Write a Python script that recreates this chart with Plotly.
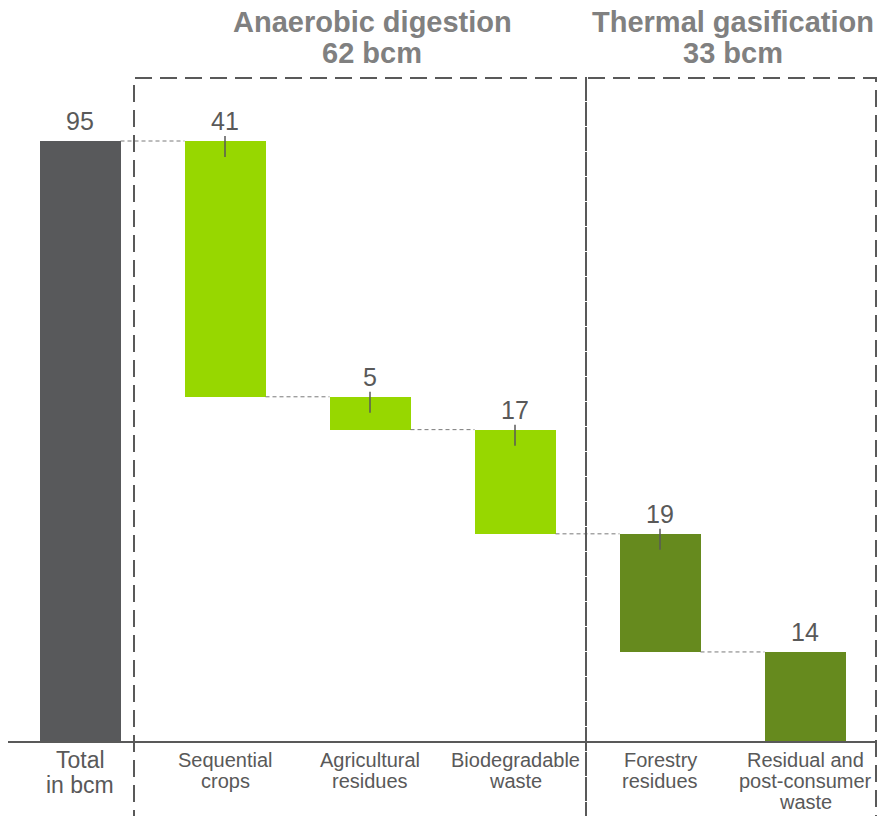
import plotly.graph_objects as go

# ---------------- data ----------------
categories = ["Total", "Sequential crops", "Agricultural residues",
              "Biodegradable waste", "Forestry residues",
              "Residual and post-consumer waste"]
category_lines = [["Total", "in bcm"], ["Sequential", "crops"],
                  ["Agricultural", "residues"], ["Biodegradable", "waste"],
                  ["Forestry", "residues"], ["Residual and", "post-consumer", "waste"]]
total_value = 95
contributions = [40.5, 5.2, 16.5, 18.7, 14.1]
value_labels = ["95", "41", "5", "17", "19", "14"]
show_tick = [False, True, True, True, True, False]
group_titles = ["Anaerobic digestion", "Thermal gasification"]
group_totals = ["62 bcm", "33 bcm"]
bar_colors = ["#58595B", "#97D700", "#97D700", "#97D700", "#668A1E", "#668A1E"]

# ---------------- layout constants ----------------
W, H = 877, 816
ML, MT, MB, MR = 8, 0, 75, 0
PW, PH = W - ML - MR, H - MT - MB
SLOT = 145.0
X_LEFT = -(80 - ML) / SLOT
Y_TOP = total_value * PH / 600.0
TEXT = "#595959"
FONT = "Liberation Sans, Arial, sans-serif"


def pxx(p):
    return (p - ML) / PW


def pxy(p):
    return 1 - (p - MT) / PH


# waterfall geometry
bases, heights, tops = [0], [total_value], [total_value]
running = total_value
for c in contributions:
    tops.append(running)
    running = running - c
    bases.append(running)
    heights.append(c)

xs = list(range(len(categories)))
bw = 81 / SLOT

fig = go.Figure()
fig.add_trace(go.Bar(x=xs, y=heights, base=bases, width=bw,
                     marker=dict(color=bar_colors, line=dict(width=0)),
                     hoverinfo="skip", showlegend=False))

shapes = []
annotations = []

# connectors
levels = [total_value] + bases[1:]
for i in range(len(xs) - 1):
    shapes.append(dict(type="line", xref="x", yref="y",
                       x0=xs[i] + bw / 2, x1=xs[i + 1] - bw / 2,
                       y0=levels[i], y1=levels[i],
                       line=dict(color="#7a7a7a", width=1, dash="4px,3px")))

# value labels and tick marks
for i, x in enumerate(xs):
    annotations.append(dict(x=x, y=tops[i], xref="x", yref="y", text=value_labels[i],
                            showarrow=False, yanchor="middle", yshift=20,
                            font=dict(size=25, color=TEXT, family=FONT)))
    if show_tick[i]:
        shapes.append(dict(type="line", xref="x", yref="y", ysizemode="pixel",
                           yanchor=tops[i], x0=x, x1=x, y0=5, y1=-16,
                           line=dict(color=TEXT, width=1.5)))

# category labels
for i, x in enumerate(xs):
    if i == 0:
        size, first, step = 23, 760, 25
    else:
        size, first, step = 20, 760, 21
    for j, line in enumerate(category_lines[i]):
        c = first + j * step
        annotations.append(dict(x=x, y=0, xref="x", yref="paper", text=line,
                                showarrow=False, yanchor="middle",
                                yshift=-(c - (MT + PH)),
                                font=dict(size=size, color=TEXT, family=FONT)))

# group boxes
box_x = [(134, 586), (586, 876)]
for (a, b) in box_x:
    shapes.append(dict(type="rect", xref="paper", yref="paper",
                       x0=pxx(a), x1=pxx(b), y0=pxy(817), y1=pxy(78),
                       line=dict(color=TEXT, width=2, dash="17px,8px"),
                       fillcolor="rgba(0,0,0,0)"))

# group titles
title_cx = [372, 733]
for k in range(2):
    annotations.append(dict(x=pxx(title_cx[k]), y=pxy(22), xref="paper", yref="paper",
                            text="<b>%s</b>" % group_titles[k], showarrow=False,
                            xanchor="center", yanchor="middle",
                            font=dict(size=29, color="#808080", family=FONT)))
    annotations.append(dict(x=pxx(title_cx[k]), y=pxy(53), xref="paper", yref="paper",
                            text="<b>%s</b>" % group_totals[k], showarrow=False,
                            xanchor="center", yanchor="middle",
                            font=dict(size=29, color="#808080", family=FONT)))

fig.update_layout(
    width=W, height=H,
    margin=dict(l=ML, r=MR, t=MT, b=MB, pad=0),
    paper_bgcolor="white", plot_bgcolor="white",
    xaxis=dict(range=[X_LEFT, X_LEFT + PW / SLOT], showticklabels=False, ticks="",
               showgrid=False, zeroline=False, showline=True, linecolor="#595959",
               linewidth=2, fixedrange=True),
    yaxis=dict(range=[0, Y_TOP], visible=False, showgrid=False, zeroline=False,
               fixedrange=True),
    shapes=shapes, annotations=annotations,
    bargap=0,
    font=dict(family=FONT, color=TEXT),
)

fig.write_html("out.html", config={"displayModeBar": False})
